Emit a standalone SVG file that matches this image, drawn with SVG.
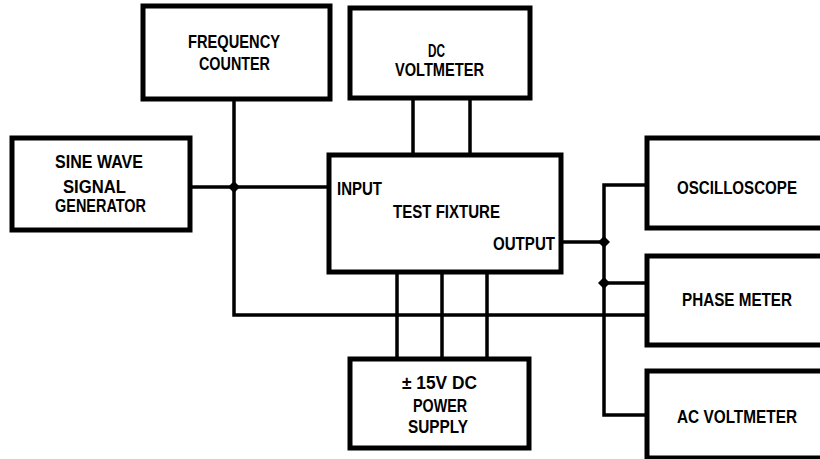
<svg xmlns="http://www.w3.org/2000/svg" width="820" height="459" viewBox="0 0 820 459">
<style>
.box{fill:#fff;stroke:#000;stroke-width:5}
.wire{fill:none;stroke:#000;stroke-width:3.5}
.t{font-family:"Liberation Sans","DejaVu Sans",sans-serif;font-weight:bold;font-size:18.5px;fill:#000}
</style>
<rect width="820" height="459" fill="#fff"/>
<g id="connectors">
<path class="wire" d="M190,187 H329"/>
<path class="wire" d="M234,99 V315 H647"/>
<path class="wire" d="M413,98 V155 M470,98 V155"/>
<path class="wire" d="M397,272 V359 M442,272 V359 M487,272 V359"/>
<path class="wire" d="M561,242 H604"/>
<path class="wire" d="M647,185 H604 V415 H647"/>
<path class="wire" d="M604,283 H647"/>
<path d="M234,181 L240,187 L234,193 L228,187 Z" fill="#000"/>
<path d="M604,236 L610,242 L604,248 L598,242 Z" fill="#000"/>
<path d="M604,277 L610,283 L604,289 L598,283 Z" fill="#000"/>
</g>
<g id="freq">
<rect class="box" x="143" y="6" width="187" height="93"/>
<text class="t" x="188" y="48" textLength="92" lengthAdjust="spacingAndGlyphs">FREQUENCY</text>
<text class="t" x="199" y="70" textLength="71" lengthAdjust="spacingAndGlyphs">COUNTER</text>
</g>
<g id="dcv">
<rect class="box" x="350" y="8" width="180" height="90"/>
<text class="t" x="428" y="57" textLength="17" lengthAdjust="spacingAndGlyphs">DC</text>
<text class="t" x="395" y="76" textLength="89" lengthAdjust="spacingAndGlyphs">VOLTMETER</text>
</g>
<g id="sine">
<rect class="box" x="12" y="138" width="178" height="92"/>
<text class="t" x="55" y="168" textLength="88" lengthAdjust="spacingAndGlyphs">SINE WAVE</text>
<text class="t" x="63" y="193" textLength="63" lengthAdjust="spacingAndGlyphs">SIGNAL</text>
<text class="t" x="55" y="212" textLength="91" lengthAdjust="spacingAndGlyphs">GENERATOR</text>
</g>
<g id="fixture">
<rect class="box" x="329" y="155" width="232" height="117"/>
<text class="t" x="337" y="195" textLength="45" lengthAdjust="spacingAndGlyphs">INPUT</text>
<text class="t" x="393" y="218" textLength="107" lengthAdjust="spacingAndGlyphs">TEST FIXTURE</text>
<text class="t" x="493" y="250" textLength="62" lengthAdjust="spacingAndGlyphs">OUTPUT</text>
</g>
<g id="power">
<rect class="box" x="350" y="359" width="179" height="89"/>
<text class="t" x="402" y="389" textLength="75" lengthAdjust="spacingAndGlyphs">± 15V DC</text>
<text class="t" x="413" y="412" textLength="54" lengthAdjust="spacingAndGlyphs">POWER</text>
<text class="t" x="408" y="433" textLength="60" lengthAdjust="spacingAndGlyphs">SUPPLY</text>
</g>
<g id="scope">
<rect class="box" x="647" y="138" width="190" height="90"/>
<text class="t" x="677" y="194" textLength="120" lengthAdjust="spacingAndGlyphs">OSCILLOSCOPE</text>
</g>
<g id="phase">
<rect class="box" x="647" y="256" width="190" height="89"/>
<text class="t" x="682" y="306" textLength="110" lengthAdjust="spacingAndGlyphs">PHASE METER</text>
</g>
<g id="acv">
<rect class="box" x="647" y="371" width="190" height="87"/>
<text class="t" x="677" y="423" textLength="120" lengthAdjust="spacingAndGlyphs">AC VOLTMETER</text>
</g>
</svg>
